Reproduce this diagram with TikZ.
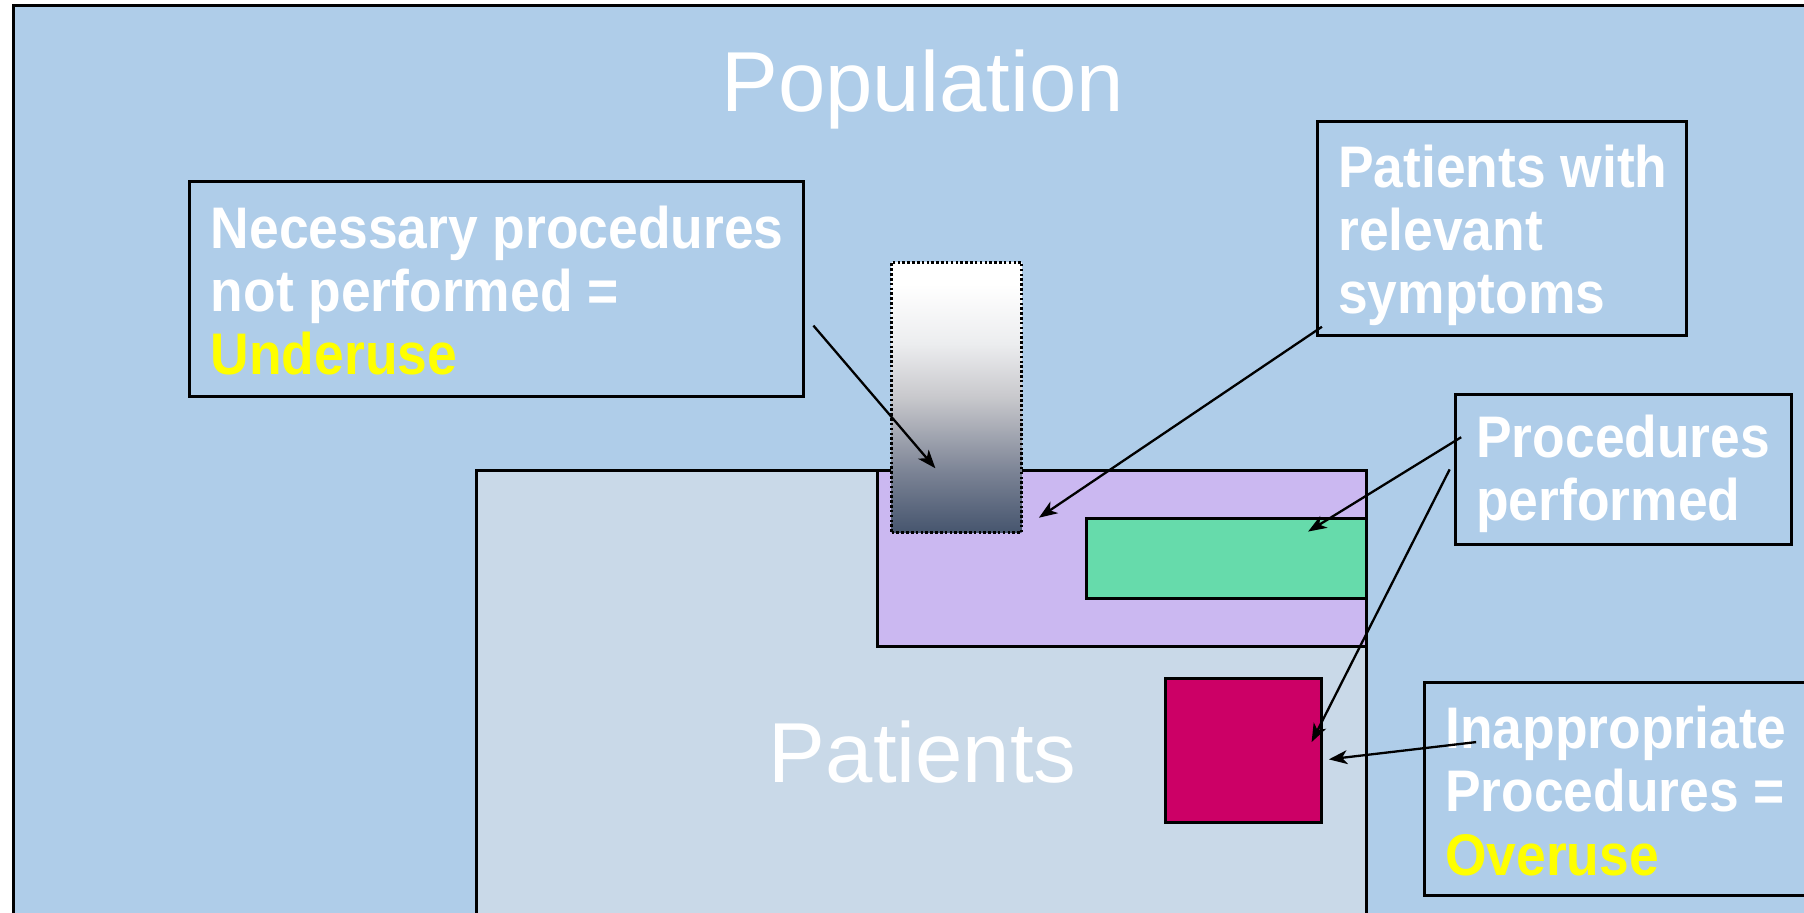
\documentclass[tikz,border=0pt]{standalone}
\usepackage{fontspec}
\setmainfont{Liberation Sans}
\newfontfamily\labfont[FakeStretch=0.91]{Liberation Sans}
\usetikzlibrary{arrows.meta}
\definecolor{popblue}{RGB}{175,205,233}
\definecolor{patblue}{RGB}{201,217,232}
\definecolor{sympurple}{RGB}{203,184,241}
\definecolor{procgreen}{RGB}{102,219,171}
\definecolor{overmag}{RGB}{204,0,102}
\definecolor{gradhigh}{RGB}{236,237,239}
\definecolor{gradmid}{RGB}{200,200,204}
\definecolor{gradlow}{RGB}{122,130,148}
\definecolor{gradbot}{RGB}{70,85,110}
\definecolor{hiyellow}{RGB}{255,255,0}
\pgfdeclareverticalshading{undershade}{100bp}{color(0bp)=(gradbot); color(25bp)=(gradbot); color(36bp)=(gradlow); color(50bp)=(gradmid); color(60bp)=(gradhigh); color(71bp)=(white); color(100bp)=(white)}
\begin{document}
\begin{tikzpicture}[x=1pt,y=-1pt,
  area/.style={draw=black,line width=2.6pt,anchor=north west,inner sep=0pt,outer sep=0pt},
  labbox/.style={draw=black,line width=2.6pt,anchor=north west,inner sep=0pt,outer sep=0pt},
  labtext/.style={anchor=north west,inner sep=0pt,align=left,text=white,
    font=\labfont\bfseries\fontsize{51}{55}\selectfont},
  bigtext/.style={anchor=base,inner sep=0pt,text=white,font=\fontsize{74}{80}\selectfont},
  pointer/.style={draw=black,line width=2pt,-{Stealth[length=16pt,width=12pt,inset=4.5pt]}}]
\clip (0,0) rectangle (1568,793);
\fill[white] (0,0) rectangle (1568,793);
% population frame
\node[area,fill=popblue,minimum width=1588pt,minimum height=815pt] (pop) at (12,5) {};
\node[bigtext] (poptxt) at (802,97) {Population};
% patients
\node[area,fill=patblue,minimum width=774pt,minimum height=411pt] (pat) at (414,409) {};
\node[area,fill=sympurple,minimum width=425pt,minimum height=153pt] (sym) at (763,409) {};
\node[area,fill=procgreen,minimum width=244pt,minimum height=69pt] (proc) at (944,451) {};
\node[anchor=north west,inner sep=0pt,outer sep=0pt,minimum width=113pt,minimum height=235pt,
  shade,shading=undershade,draw=black,line width=2.2pt,dotted] (under) at (775,228) {};
\node[area,fill=overmag,minimum width=136pt,minimum height=125pt] (over) at (1013,590) {};
\node[bigtext] (pattxt) at (802,680) {Patients};
% label boxes
\node[labbox,minimum width=533pt,minimum height=187pt] (necbox) at (165,158) {};
\node[labtext] (nectxt) at (183,178.5) {Necessary procedures\\not performed =\\{\color{hiyellow}Underuse}};
\node[labbox,minimum width=321pt,minimum height=186pt] (symbox) at (1145,106) {};
\node[labtext] (symtxt) at (1163,125.5) {Patients with\\relevant\\symptoms};
\node[labbox,minimum width=292pt,minimum height=130pt] (procbox) at (1265,343) {};
\node[labtext] (proctxt) at (1283,360.5) {Procedures\\performed};
\node[labbox,minimum width=362pt,minimum height=185pt] (inapbox) at (1238,593) {};
\node[labtext] (inaptxt) at (1256,613.5) {Inappropriate\\Procedures =\\{\color{hiyellow}Overuse}};
% arrow ends
\coordinate (a1s) at (707,283); \coordinate (a1e) at (813,407);
\coordinate (a2s) at (1149,284); \coordinate (a2e) at (903,450);
\coordinate (a3s) at (1270,380); \coordinate (a3e) at (1137,462);
\coordinate (a4s) at (1260,408); \coordinate (a4e) at (1140,645);
\coordinate (a5s) at (1283,645); \coordinate (a5e) at (1155,660);
\draw[pointer] (a1s) -- (a1e);
\draw[pointer] (a2s) -- (a2e);
\draw[pointer] (a3s) -- (a3e);
\draw[pointer] (a4s) -- (a4e);
\draw[pointer] (a5s) -- (a5e);
\end{tikzpicture}
\end{document}
